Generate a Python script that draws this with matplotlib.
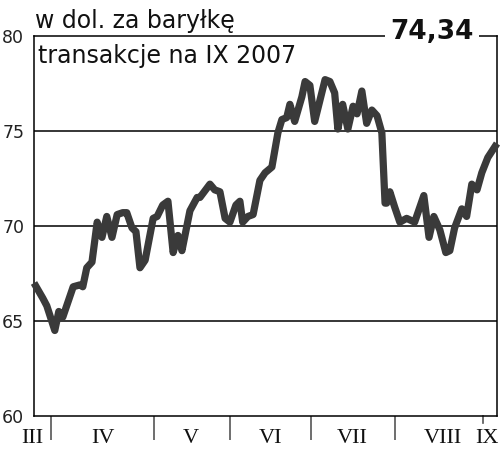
import matplotlib
matplotlib.use("Agg")
import matplotlib.pyplot as plt
import matplotlib.transforms as mtransforms

# trading sessions (index) and price
days = [0, 2.2, 3.2, 5.2, 6.2, 7.2, 9.8, 11.5, 12.2, 13.2, 14.5, 15.8, 17, 18.2,
        19.5, 20.8, 22.2, 23.2, 24.5, 25.5, 26.5, 27.8, 29.8, 30.8, 32.2, 33.5,
        34.8, 36, 37, 39, 40.8, 41.5, 44, 45.2, 46.5, 47.8, 49, 50.5, 51.5, 52.2,
        53.5, 54.8, 56.5, 57.8, 59.5, 61, 62, 63.2, 64, 65.2, 67, 67.8, 69, 70.2,
        72.8, 74, 75.2, 76, 77.2, 78.5, 79.8, 80.8, 82, 83.2, 84.5, 85.8, 87,
        87.8, 88.2, 89, 90.2, 91.5, 93.2, 95.2, 97.5, 98.8, 100, 101.5, 103, 104,
        105.2, 107, 108.2, 109.5, 110.8, 112, 113.5, 115.8]
price = [67.0, 66.2, 65.8, 64.5, 65.5, 65.2, 66.8, 66.9, 66.8, 67.8, 68.1, 70.2,
         69.4, 70.5, 69.4, 70.6, 70.7, 70.7, 69.9, 69.7, 67.8, 68.2, 70.4, 70.5,
         71.1, 71.3, 68.6, 69.5, 68.7, 70.8, 71.5, 71.5, 72.2, 71.9, 71.8, 70.4,
         70.2, 71.1, 71.3, 70.2, 70.5, 70.6, 72.4, 72.8, 73.1, 74.9, 75.6, 75.7,
         76.4, 75.5, 76.8, 77.6, 77.4, 75.5, 77.7, 77.6, 77.0, 75.1, 76.4, 75.1,
         76.3, 75.9, 77.1, 75.4, 76.1, 75.8, 74.9, 71.2, 71.2, 71.8, 71.0, 70.2,
         70.4, 70.2, 71.6, 69.4, 70.5, 69.8, 68.6, 68.7, 69.9, 70.9, 70.5, 72.2,
         71.9, 72.8, 73.6, 74.34]

month_bounds = [4.25, 29.9, 49, 69.2, 90.2]
last_bound = 112.2
month_names = ["III", "IV", "V", "VI", "VII", "VIII", "IX"]
month_mid = [-0.5, 17.2, 39.2, 59.2, 79.5, 102.2, 113.2]
y_ticks = [60, 65, 70, 75, 80]
last_value = "74,34"

fig = plt.figure(figsize=(5, 4.49), dpi=100)
ax = fig.add_axes([0.068, 0.0735, 0.926, 0.8465])

ax.plot(days, price, color="#3a3a3a", lw=5.2, solid_joinstyle="round",
        solid_capstyle="butt", zorder=4, clip_on=False)

ax.set_xlim(0, 115.8)
ax.set_ylim(60, 80)

for v in [65, 70, 75]:
    ax.axhline(v, color="black", lw=1.1, zorder=1)

for s in ["left", "bottom", "right", "top"]:
    ax.spines[s].set_linewidth(1.1)
    ax.spines[s].set_color("black")

ax.set_yticks(y_ticks)
ax.set_yticklabels([str(v) for v in y_ticks], fontsize=12.5,
                   family="DejaVu Sans", color="#222222")
ax.tick_params(axis="y", length=0, pad=7)

ax.set_xticks(month_bounds)
ax.set_xticklabels([])
ax.tick_params(axis="x", length=17, width=1.2, color="#555555", direction="out")

trans = mtransforms.blended_transform_factory(ax.transData, ax.transAxes)
ax.plot([last_bound, last_bound], [0, -0.018], transform=trans, color="#555555",
        lw=1.2, clip_on=False)
for name, x in zip(month_names, month_mid):
    ax.text(x, -0.071, name, transform=trans, ha="center", va="baseline",
            fontsize=16, family="Liberation Serif", color="#111111")

fig.text(0.07, 0.9376, "w dol. za baryłkę", fontsize=17, family="DejaVu Sans",
         color="#111111", va="baseline", ha="left")
fig.text(0.076, 0.8597, "transakcje na IX 2007", fontsize=17,
         family="DejaVu Sans", color="#111111", va="baseline", ha="left")
fig.text(0.864, 0.913, last_value, fontsize=19, family="DejaVu Sans",
         weight="bold", color="#111111", va="baseline", ha="center", zorder=10,
         bbox=dict(facecolor="white", edgecolor="none", pad=4))

fig.savefig("out.png", dpi=100)
